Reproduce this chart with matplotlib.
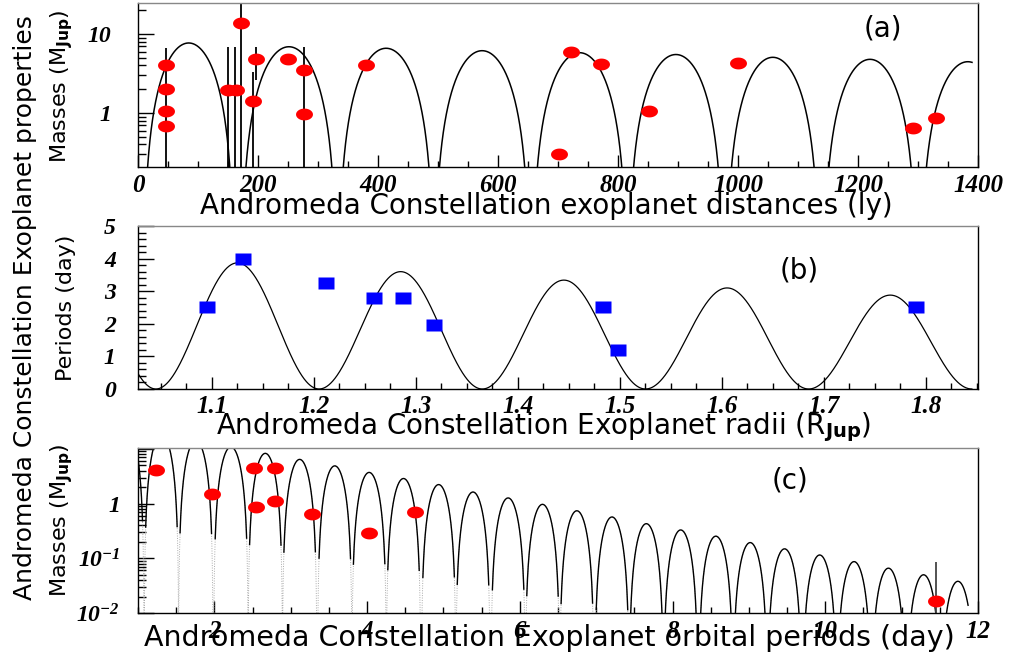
import numpy as np
import matplotlib
matplotlib.use('Agg')
import matplotlib.pyplot as plt
from matplotlib.ticker import MultipleLocator, LogLocator, FuncFormatter, NullFormatter

plt.rcParams['font.family'] = ['Liberation Serif']
plt.rcParams['font.weight'] = 'bold'
plt.rcParams['font.style'] = 'italic'
plt.rcParams['font.size'] = 17
plt.rcParams['mathtext.fontset'] = 'custom'
plt.rcParams['mathtext.rm'] = 'Liberation Serif:bold:italic'
plt.rcParams['mathtext.it'] = 'Liberation Serif:bold:italic'
plt.rcParams['mathtext.bf'] = 'Liberation Serif:bold:italic'
plt.rcParams['mathtext.sf'] = 'DejaVu Sans:style=normal:weight=bold'

# ---- (a) masses vs distance ----
dist = [46, 46, 46, 46, 150, 163, 171, 196, 192, 250, 277, 277, 380, 721, 772, 702, 852, 1000, 1291, 1330]
mass_a = [4.1, 2.0, 1.07, 0.69, 1.95, 1.95, 13.7, 4.8, 1.42, 4.8, 3.5, 0.97, 4.1, 5.9, 4.2, 0.30, 1.06, 4.3, 0.64, 0.86]
err_x = [46, 150, 162, 171, 191, 196, 277]
err_lo = [0.1, 0.1, 0.1, 0.1, 0.1, 2.6, 0.1]
err_hi = [6.6, 6.9, 6.9, 40, 3.3, 6.9, 6.9]
# fitted arches: start, end, peak
a_lo = [8, 171, 333, 493, 656, 816, 979, 1141, 1303]
a_hi = [161, 332, 494, 654, 816, 977, 1137, 1299, 1463]
a_peak = [7.7, 6.9, 6.6, 6.15, 5.8, 5.5, 5.07, 4.78, 4.46]

# ---- (b) periods vs radius ----
radius = [1.095, 1.130, 1.2115, 1.259, 1.287, 1.318, 1.483, 1.498, 1.790]
period_b = [2.5, 4.0, 3.25, 2.78, 2.78, 1.97, 2.5, 1.2, 2.5]
b_lo = [0.885, 1.045, 1.205, 1.365, 1.525, 1.685]
b_peak = [4.2, 3.87, 3.6, 3.34, 3.1, 2.88]
b_width = 0.16

# ---- (c) masses vs orbital period ----
orb_period = [1.23, 1.975, 2.52, 2.80, 2.54, 2.80, 3.28, 4.03, 4.63, 11.45]
mass_c = [4.2, 1.53, 4.5, 4.4, 0.87, 1.1, 0.64, 0.29, 0.70, 0.0167]
c_lo = [0.626, 1.08, 1.53, 1.99, 2.44, 2.89, 3.35, 3.80, 4.25, 4.71, 5.16, 5.62,
        6.07, 6.52, 6.98, 7.43, 7.88, 8.34, 8.79, 9.24, 9.70, 10.15, 10.60, 11.06, 11.51]
c_peak = [24, 18.5, 14.2, 10.9, 8.3, 6.44, 4.9, 3.72, 2.88, 2.23, 1.63, 1.27, 0.97,
          0.74, 0.57, 0.43, 0.33, 0.254, 0.194, 0.149, 0.115, 0.087, 0.066, 0.050, 0.038]
c_width = 0.4535


def arches(x, lo, hi, peak):
    y = np.zeros_like(x)
    frac = np.zeros_like(x)
    for l, h, p in zip(lo, hi, peak):
        m = (x >= l) & (x <= h)
        s = np.sin(np.pi * (x[m] - l) / (h - l)) ** 2
        y[m] = p * s
        frac[m] = s
    return np.maximum(y, 1e-6), frac


W, H = 1017, 668
fig = plt.figure(figsize=(W / 100, H / 100), dpi=100)


def px_axes(x0, y0, x1, y1):
    return fig.add_axes([x0 / W, 1 - y1 / H, (x1 - x0) / W, (y1 - y0) / H])


ell = [(np.cos(t), 0.7 * np.sin(t)) for t in np.linspace(0, 2 * np.pi, 40)]
rect = [(-1, -0.74), (1, -0.74), (1, 0.74), (-1, 0.74), (-1, -0.74)]
sans = dict(family='DejaVu Sans', weight='normal', style='normal')


def style(ax, xpad, ypad, ymaj=11.5):
    ax.tick_params(which='both', direction='in', top=False, right=False, width=1)
    ax.tick_params(axis='x', which='major', length=8.6, pad=xpad, labelsize=18)
    ax.tick_params(axis='x', which='minor', length=4.3)
    ax.tick_params(axis='y', which='major', length=ymaj, pad=ypad, labelsize=17)
    ax.tick_params(axis='y', which='minor', length=5.5)
    ax.spines['top'].set_color('#888888')
    for s in ax.spines.values():
        s.set_linewidth(1)


# panel (a)
ax1 = px_axes(138, 3, 978, 167)
xa = np.linspace(0, 1390, 6000)
ya, _ = arches(xa, a_lo, a_hi, a_peak)
ax1.plot(xa, ya, color='black', lw=1.1)
ax1.vlines(err_x, err_lo, err_hi, color='black', lw=1.3)
ax1.plot(dist, mass_a, ls='none', marker=ell, ms=12.2, color='red', mec='none', zorder=5)
ax1.set_yscale('log')
ax1.set_xlim(0, 1400)
ax1.set_ylim(0.207, 24.7)
ax1.xaxis.set_major_locator(MultipleLocator(200))
ax1.xaxis.set_minor_locator(MultipleLocator(50))
ax1.yaxis.set_major_locator(LogLocator(base=10))
ax1.yaxis.set_minor_locator(LogLocator(base=10, subs=np.arange(2, 10)))
ax1.yaxis.set_major_formatter(FuncFormatter(lambda v, p: {1: '1', 10: '10'}.get(int(round(v)), '') if v >= 1 else ''))
ax1.yaxis.set_minor_formatter(NullFormatter())
style(ax1, 5, 19)

# panel (b)
ax2 = px_axes(138, 226, 978, 389)
xb = np.linspace(1.028, 1.845, 3000)
yb, _ = arches(xb, b_lo, [l + b_width for l in b_lo], b_peak)
ax2.plot(xb, np.where(yb < 1e-5, 0, yb), color='black', lw=0.9)
ax2.plot(radius, period_b, ls='none', marker=rect, ms=12.2, color='#0000ff', mec='none', zorder=5)
ax2.set_xlim(1.0275, 1.851)
ax2.set_ylim(0, 5)
ax2.xaxis.set_major_locator(MultipleLocator(0.1))
ax2.xaxis.set_minor_locator(MultipleLocator(0.025))
ax2.yaxis.set_major_locator(MultipleLocator(1))
ax2.yaxis.set_minor_locator(MultipleLocator(0.2))
ax2.xaxis.set_major_formatter(FuncFormatter(lambda v, p: '%.1f' % v))
ax2.yaxis.set_major_formatter(FuncFormatter(lambda v, p: '%d' % round(v)))
style(ax2, 4, 16)

# panel (c)
ax3 = px_axes(138, 448, 978, 613)
xc = np.linspace(1.0, 11.87, 12000)
yc, fc = arches(xc, c_lo, [l + c_width for l in c_lo], c_peak)
ax3.plot(xc, yc, color='#aaaaaa', lw=0.7, ls=(0, (1, 1.5)))
ax3.plot(xc, np.where(fc > 0.02, yc, np.nan), color='black', lw=1.0)
ax3.vlines([11.45], [0.005], [0.087], color='#444444', lw=1.3)
ax3.plot(orb_period, mass_c, ls='none', marker=ell, ms=12.2, color='red', mec='none', zorder=5)
ax3.set_yscale('log')
ax3.set_xlim(1, 12)
ax3.set_ylim(0.01, 10.4)
ax3.xaxis.set_major_locator(MultipleLocator(2))
ax3.xaxis.set_minor_locator(MultipleLocator(0.5))
ax3.yaxis.set_major_locator(LogLocator(base=10))
ax3.yaxis.set_minor_locator(LogLocator(base=10, subs=np.arange(2, 10)))
ax3.yaxis.set_major_formatter(FuncFormatter(
    lambda v, p: {0: '1', -1: r'$10^{-1}$', -2: r'$10^{-2}$'}.get(int(round(np.log10(v))), '')))
ax3.yaxis.set_minor_formatter(NullFormatter())
style(ax3, 5, 13)


def ftext(x, y, s, size, **kw):
    fig.text(x / W, 1 - y / H, s, fontsize=size, **sans, **kw)


ftext(546, 214, 'Andromeda Constellation exoplanet distances (ly)', 20, ha='center', va='baseline')
ftext(544, 434, r'Andromeda Constellation Exoplanet radii (R$_{\mathsf{Jup}}$)', 20, ha='center', va='baseline')
ftext(549, 646, 'Andromeda Constellation Exoplanet orbital periods (day)', 20.5, ha='center', va='baseline')

ftext(25, 308, 'Andromeda Constellation Exoplanet properties', 18, rotation=90, ha='center', va='center')
ftext(62, 86, r'Masses (M$_{\mathsf{Jup}}$)', 16, rotation=90, ha='center', va='center')
ftext(66, 308, 'Periods (day)', 16, rotation=90, ha='center', va='center')
ftext(62, 520, r'Masses (M$_{\mathsf{Jup}}$)', 16, rotation=90, ha='center', va='center')

ftext(883, 29, '(a)', 20, ha='center', va='center')
ftext(799, 270, '(b)', 20, ha='center', va='center')
ftext(790, 481, '(c)', 20, ha='center', va='center')

fig.savefig('out.png', dpi=100)
